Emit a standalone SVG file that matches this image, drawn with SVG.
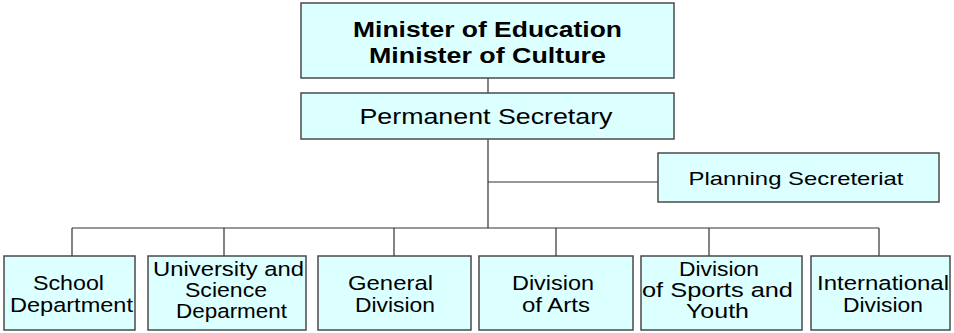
<svg xmlns="http://www.w3.org/2000/svg" width="954" height="333" viewBox="0 0 954 333">
<style>
.box{fill:#dcffff;stroke:#4a4a4a;stroke-width:1.5}
.t{font-family:"Liberation Sans",Arial,sans-serif;font-size:20.5px;fill:#000;text-anchor:middle}
.b{font-weight:bold;font-size:22.5px}
.m{font-size:22px}
.p{font-size:19px}
.c{fill:none;stroke:#333;stroke-width:1.2}
</style>
<rect x="0" y="0" width="954" height="333" fill="#fff"/>
<g id="connectors">
<path class="c" d="M488 78V93M488 139V228M488 182H658M72 228H879M72 228V256M224 228V256M394 228V256M556 228V256M709 228V256M879 228V256"/>
</g>
<g id="minister">
<rect class="box" x="301" y="3" width="373" height="75"/>
<text class="t b" x="487.5" y="37" textLength="269" lengthAdjust="spacingAndGlyphs">Minister of Education</text>
<text class="t b" x="487.5" y="63" textLength="237" lengthAdjust="spacingAndGlyphs">Minister of Culture</text>
</g>
<g id="permanent">
<rect class="box" x="301" y="93" width="373" height="46"/>
<text class="t m" x="486" y="124" textLength="253" lengthAdjust="spacingAndGlyphs">Permanent Secretary</text>
</g>
<g id="planning">
<rect class="box" x="658" y="153" width="281" height="49"/>
<text class="t p" x="796" y="185" textLength="215" lengthAdjust="spacingAndGlyphs">Planning Secreteriat</text>
</g>
<g id="school">
<rect class="box" x="4" y="256" width="131" height="74"/>
<text class="t" x="68.5" y="290" textLength="71" lengthAdjust="spacingAndGlyphs">School</text>
<text class="t" x="71.5" y="312" textLength="123" lengthAdjust="spacingAndGlyphs">Department</text>
</g>
<g id="university">
<rect class="box" x="148" y="256" width="158" height="74"/>
<text class="t" x="228.5" y="276" textLength="151" lengthAdjust="spacingAndGlyphs">University and</text>
<text class="t" x="226" y="297" textLength="82" lengthAdjust="spacingAndGlyphs">Science</text>
<text class="t" x="231.5" y="318" textLength="111" lengthAdjust="spacingAndGlyphs">Deparment</text>
</g>
<g id="general">
<rect class="box" x="318" y="256" width="153" height="74"/>
<text class="t" x="390.5" y="290" textLength="85" lengthAdjust="spacingAndGlyphs">General</text>
<text class="t" x="395" y="312" textLength="80" lengthAdjust="spacingAndGlyphs">Division</text>
</g>
<g id="arts">
<rect class="box" x="479" y="256" width="154" height="74"/>
<text class="t" x="553" y="290" textLength="82" lengthAdjust="spacingAndGlyphs">Division</text>
<text class="t" x="556" y="312" textLength="68" lengthAdjust="spacingAndGlyphs">of Arts</text>
</g>
<g id="sports">
<rect class="box" x="641" y="256" width="161" height="74"/>
<text class="t" x="719" y="276" textLength="80" lengthAdjust="spacingAndGlyphs">Division</text>
<text class="t" x="717.5" y="297" textLength="151" lengthAdjust="spacingAndGlyphs">of Sports and</text>
<text class="t" x="717.5" y="318" textLength="63" lengthAdjust="spacingAndGlyphs">Youth</text>
</g>
<g id="international">
<rect class="box" x="811" y="256" width="139" height="74"/>
<text class="t" x="883" y="290" textLength="132" lengthAdjust="spacingAndGlyphs">International</text>
<text class="t" x="883" y="312" textLength="80" lengthAdjust="spacingAndGlyphs">Division</text>
</g>
</svg>
